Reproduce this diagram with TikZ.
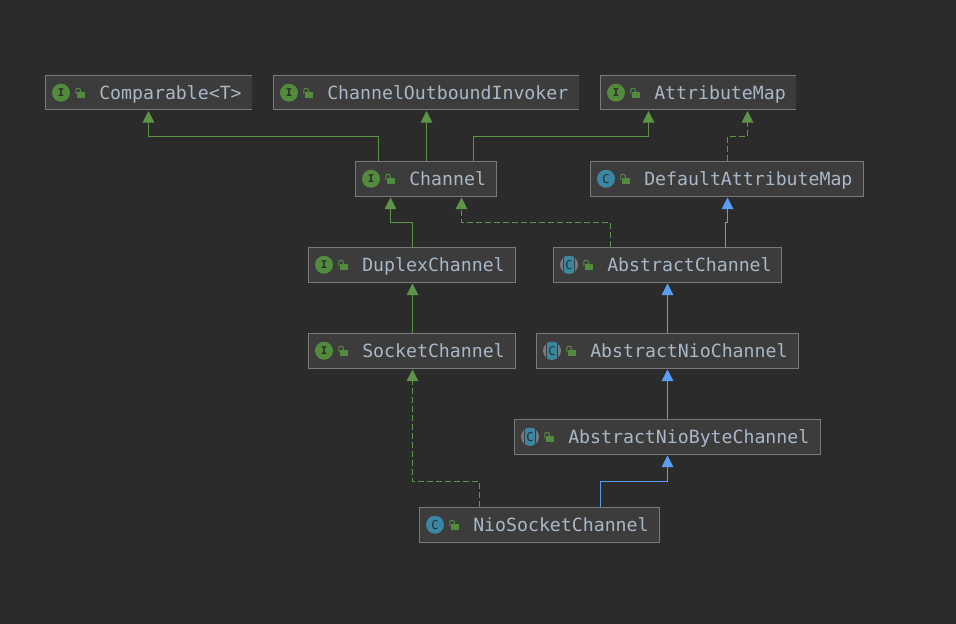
\documentclass[tikz,border=0pt]{standalone}
\usepackage{fontspec}
\setmonofont{DejaVu Sans Mono}
\usepackage{xcolor}
\usetikzlibrary{positioning, arrows.meta, calc}

\definecolor{canvas}{HTML}{2B2B2B}
\definecolor{boxfill}{HTML}{3C3C3C}
\definecolor{boxline}{HTML}{7A7A7A}
\definecolor{labeltext}{HTML}{A9B7C6}
\definecolor{ifacegreen}{HTML}{538B3C}
\definecolor{implgreen}{HTML}{5C9448}
\definecolor{extblue}{HTML}{589DF6}
\definecolor{classteal}{HTML}{3A87A3}

\begin{document}
\begin{tikzpicture}[
    x=0.75pt, y=-0.75pt,
    box/.style={draw=boxline, fill=boxfill, line width=0.75pt, rectangle, minimum height=25.875pt, inner sep=0pt, anchor=west},
    boxtop/.style={box, draw=none, outer sep=0pt},
    boxedge/.style={boxline, line width=0.75pt},
    lbl/.style={font=\ttfamily\fontsize{13.65}{16}\selectfont, text=labeltext, inner sep=0pt, anchor=west, text height=10pt, text depth=2.5pt, yshift=-0.95pt},
    ifaceicon/.style={circle, fill=ifacegreen, minimum size=13.5pt, inner sep=0pt, text=canvas, font=\ttfamily\bfseries\fontsize{8}{8}\selectfont},
    classicon/.style={circle, fill=classteal, minimum size=13.5pt, inner sep=0pt, text=canvas, font=\ttfamily\fontsize{9}{9}\selectfont},
    absicon/.style={circle, fill=boxline, minimum size=13.5pt, inner sep=0pt, text=canvas, font=\ttfamily\fontsize{9}{9}\selectfont,
        path picture={\filldraw[fill=classteal, draw=boxfill, line width=0.5pt] ([xshift=-3.9pt,yshift=-7pt]path picture bounding box.center) rectangle ([xshift=3.9pt,yshift=7pt]path picture bounding box.center);}},
    lockopen/.pic={
        \fill[ifacegreen] (-2.2,-0.3) rectangle (5.5,5.5);
        \draw[ifacegreen, line width=0.8pt, rounded corners=1.5pt] (-3.7,1.5) -- (-3.7,-4.5) -- (0.8,-4.5) -- (0.8,0);
    },
    impl/.style={-{Triangle[length=8.75pt,width=8.75pt]}, implgreen, line width=0.75pt, shorten >=0.75pt},
    real/.style={impl, dash pattern=on 4.5pt off 2.25pt},
    ext/.style={impl, extblue},
]

\useasboundingbox (0,0) rectangle (956,624);
\fill[canvas] (0,0) rectangle (956,624);

% --- top row ---
\node[boxtop, minimum width=154.5pt] (comparable) at (45.5,92.75) {};
\draw[boxedge] (comparable.south east) -- (comparable.south west) -- (comparable.north west) -- (comparable.north east);
\node[ifaceicon] (comparableicon) at (61,92.75) {I};
\pic at (79.5,92.75) {lockopen};
\node[lbl] (comparabletext) at (99,92.75) {Comparable<T>};

\node[boxtop, minimum width=228.75pt] (outbound) at (273.5,92.75) {};
\draw[boxedge] (outbound.south east) -- (outbound.south west) -- (outbound.north west) -- (outbound.north east);
\node[ifaceicon] (outboundicon) at (289,92.75) {I};
\pic at (307.5,92.75) {lockopen};
\node[lbl] (outboundtext) at (327,92.75) {ChannelOutboundInvoker};

\node[boxtop, minimum width=146.25pt] (attrmap) at (600.5,92.75) {};
\draw[boxedge] (attrmap.south east) -- (attrmap.south west) -- (attrmap.north west) -- (attrmap.north east);
\node[ifaceicon] (attrmapicon) at (616,92.75) {I};
\pic at (634.5,92.75) {lockopen};
\node[lbl] (attrmaptext) at (654,92.75) {AttributeMap};

% --- second row ---
\node[box, minimum width=105.75pt] (channel) at (355,178.75) {};
\node[ifaceicon] (channelicon) at (371,178.75) {I};
\pic at (389.5,178.75) {lockopen};
\node[lbl] (channeltext) at (409,178.75) {Channel};

\node[box, minimum width=204.75pt] (defaultmap) at (590,178.75) {};
\node[classicon] (defaultmapicon) at (606,178.75) {C};
\pic at (624.5,178.75) {lockopen};
\node[lbl] (defaultmaptext) at (644,178.75) {DefaultAttributeMap};

% --- third row ---
\node[box, minimum width=155.25pt] (duplex) at (308,264.75) {};
\node[ifaceicon] (duplexicon) at (324,264.75) {I};
\pic at (342.5,264.75) {lockopen};
\node[lbl] (duplextext) at (362,264.75) {DuplexChannel};

\node[box, minimum width=171pt] (abstract) at (553,264.75) {};
\node[absicon] (abstracticon) at (569,264.75) {C};
\pic at (587.5,264.75) {lockopen};
\node[lbl] (abstracttext) at (607,264.75) {AbstractChannel};

% --- fourth row ---
\node[box, minimum width=155.25pt] (socket) at (308,350.75) {};
\node[ifaceicon] (socketicon) at (324,350.75) {I};
\pic at (342.5,350.75) {lockopen};
\node[lbl] (sockettext) at (362,350.75) {SocketChannel};

\node[box, minimum width=196.5pt] (absnio) at (536,350.75) {};
\node[absicon] (absnioicon) at (552,350.75) {C};
\pic at (570.5,350.75) {lockopen};
\node[lbl] (absniotext) at (590,350.75) {AbstractNioChannel};

% --- bottom rows ---
\node[box, minimum width=229.5pt] (absbyte) at (514,436.75) {};
\node[absicon] (absbyteicon) at (530,436.75) {C};
\pic at (548.5,436.75) {lockopen};
\node[lbl] (absbytetext) at (568,436.75) {AbstractNioByteChannel};

\node[box, minimum width=180pt] (niosocket) at (419,524.75) {};
\node[classicon] (niosocketicon) at (435,524.75) {C};
\pic at (453.5,524.75) {lockopen};
\node[lbl] (niosockettext) at (473,524.75) {NioSocketChannel};

% --- inheritance edges ---
\draw[impl] ([xshift=-35.625pt]channel.north) -- ++(0,-24.5) -| (comparable.south);
\draw[impl] ([xshift=.375pt]channel.north) -- ([xshift=.375pt]outbound.south);
\draw[impl] ([xshift=35.625pt]channel.north) -- ++(0,-24.5) -| ([xshift=-37.125pt]attrmap.south);
\draw[real] ([xshift=.375pt]defaultmap.north) -- ++(0,-24.5) -| ([xshift=37.125pt]attrmap.south);
\draw[impl] ([xshift=.375pt]duplex.north) -- ++(0,-24.5) -| ([xshift=-26.625pt]channel.south);
\draw[real] ([xshift=-42.75pt]abstract.north) -- ++(0,-24.5) -| ([xshift=26.625pt]channel.south);
\draw[ext] ([xshift=43.5pt]abstract.north) -- ++(0,-24.5) -| ([xshift=.375pt]defaultmap.south);
\draw[impl] ([xshift=.375pt]socket.north) -- ([xshift=.375pt]duplex.south);
\draw[ext] (absnio.north) -- (abstract.south);
\draw[ext] (absbyte.north) -- (absnio.south);
\draw[real] ([xshift=-45pt]niosocket.north) -- ++(0,-25.5) -| ([xshift=.375pt]socket.south);
\draw[ext] ([xshift=45.75pt]niosocket.north) -- ++(0,-25.5) -| (absbyte.south);

\end{tikzpicture}
\end{document}
